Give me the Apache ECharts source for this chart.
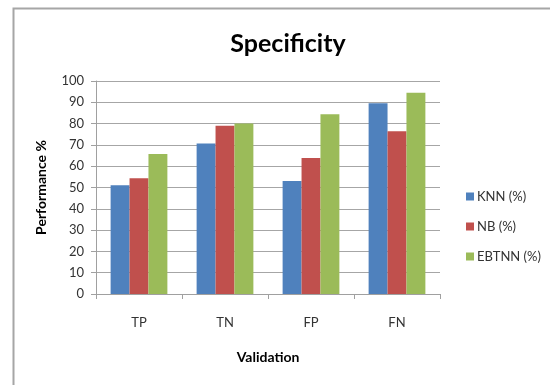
<!DOCTYPE html>
<html>
<head>
<meta charset="utf-8">
<script src="https://cdn.jsdelivr.net/npm/echarts@6/dist/echarts.min.js"></script>
<style>html,body{margin:0;padding:0;background:#fff}#c{width:550px;height:385px}</style>
</head>
<body>
<div id="c"></div>
<script>
var categories = ['TP', 'TN', 'FP', 'FN'];
var knn = [51, 70.7, 53.1, 89.5];
var nb = [54.3, 79, 63.8, 76.4];
var ebtnn = [65.7, 80.1, 84.4, 94.5];
var yTicks = [0, 10, 20, 30, 40, 50, 60, 70, 80, 90, 100];

var FONT = 'Lato, "Open Sans", sans-serif';
var chart = echarts.init(document.getElementById('c'));
chart.setOption({
  animation: false,
  textStyle: { fontFamily: FONT },
  graphic: [{
    type: 'rect', left: 11, top: 6, shape: { width: 600, height: 500 },
    style: { fill: 'none', stroke: '#a6a6a6', lineWidth: 2 }, silent: true
  }],
  title: {
    text: 'Specificity', left: 283, top: 26, textAlign: 'center',
    textStyle: { fontFamily: FONT, fontSize: 25, fontWeight: 'bold', color: '#000' }
  },
  legend: {
    orient: 'vertical', left: 461, top: 185, itemGap: 17,
    itemWidth: 8, itemHeight: 8, icon: 'rect',
    textStyle: { fontFamily: FONT, fontSize: 13, color: '#333', padding: [0, 0, 0, -2] },
    data: ['KNN (%)', 'NB (%)', 'EBTNN (%)']
  },
  grid: { left: 96, right: 110, top: 81, bottom: 91 },
  xAxis: {
    type: 'category', data: categories,
    name: 'Validation', nameLocation: 'middle', nameGap: 56,
    nameTextStyle: { fontFamily: FONT, fontSize: 14, fontWeight: 'bold', color: '#000' },
    axisLine: { lineStyle: { color: '#a0a0a0' } },
    axisTick: { show: true, inside: false, length: 5, alignWithLabel: false, lineStyle: { color: '#a0a0a0' } },
    axisLabel: { margin: 22, fontSize: 13, color: '#333', fontFamily: FONT }
  },
  yAxis: {
    type: 'value', min: 0, max: 100, interval: 10,
    name: 'Performance %', nameLocation: 'middle', nameGap: 48, nameRotate: 90,
    nameTextStyle: { fontFamily: FONT, fontSize: 14, fontWeight: 'bold', color: '#000' },
    axisLine: { show: true, lineStyle: { color: '#a0a0a0' } },
    axisTick: { show: true, length: 5, lineStyle: { color: '#a0a0a0' } },
    axisLabel: { margin: 12, fontSize: 13, color: '#333', fontFamily: FONT,
      formatter: function (v) { return yTicks.indexOf(v) >= 0 ? String(v) : ''; } },
    splitLine: { lineStyle: { color: '#a6a6a6' } }
  },
  series: [
    { name: 'KNN (%)', type: 'bar', data: knn, barGap: '0%', barCategoryGap: '34%', itemStyle: { color: '#4F81BD' } },
    { name: 'NB (%)', type: 'bar', data: nb, barGap: '0%', barCategoryGap: '34%', itemStyle: { color: '#C0504D' } },
    { name: 'EBTNN (%)', type: 'bar', data: ebtnn, barGap: '0%', barCategoryGap: '34%', itemStyle: { color: '#9BBB59' } }
  ]
});
</script>
</body>
</html>
